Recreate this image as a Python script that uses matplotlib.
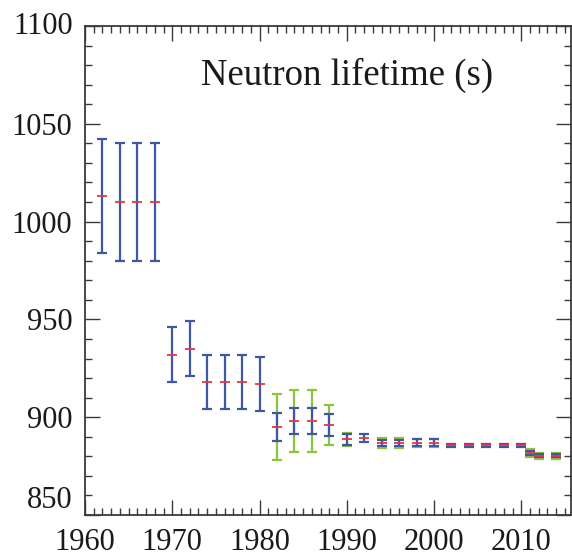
import matplotlib
matplotlib.use("Agg")
import matplotlib.pyplot as plt
import numpy as np
from matplotlib.ticker import MultipleLocator

# ---- data ----
years = [1962, 1964, 1966, 1968, 1970, 1972, 1974, 1976, 1978, 1980,
         1982, 1984, 1986, 1988, 1990, 1992, 1994, 1996, 1998, 2000,
         2002, 2004, 2006, 2008, 2010, 2011, 2012, 2014]
values = [1013, 1010, 1010, 1010, 932, 935, 918, 918, 918, 917,
          895, 898, 898, 896, 888.6, 889.5, 887.0, 887.0, 887.0, 887.0,
          885.7, 885.7, 885.7, 885.7, 885.7, 881.6, 880.3, 880.3]
err_blue = [29, 30, 30, 30, 14, 14, 14, 14, 14, 14,
            7, 6.5, 6.5, 5.5, 2.6, 2.0, 1.5, 1.5, 1.6, 1.6,
            0.8, 0.8, 0.8, 0.8, 0.8, 1.0, 0.8, 0.8]
# scaled (larger) uncertainties drawn in green; None = not shown
err_green = [None, None, None, None, None, None, None, None, None, None,
             17, 16, 16, 10, 3.5, None, 2.6, 2.6, 2.0, 2.0,
             None, None, None, None, None, 1.9, 1.5, 1.5]

y_ticks = [850, 900, 950, 1000, 1050, 1100]
x_ticks = [1960, 1970, 1980, 1990, 2000, 2010]
title_text = "Neutron lifetime (s)"

BLUE = "#3e58a6"
GREEN = "#8cc43c"
RED = "#e8343c"
FRAME = "#3a3a3a"

plt.rcParams['font.family'] = ['Liberation Serif', 'DejaVu Serif']

fig = plt.figure(figsize=(5.72, 5.55), dpi=100)
ax = fig.add_axes([85/572, 1 - 515/555, (571 - 85)/572, (515 - 26)/555])

# green (scaled) error bars
gx = [x for x, g in zip(years, err_green) if g is not None]
gy = [v for v, g in zip(values, err_green) if g is not None]
ge = [g for g in err_green if g is not None]
ax.errorbar(gx, gy, yerr=ge, fmt='none', ecolor=GREEN, elinewidth=1.6,
            capsize=3.5, capthick=1.6, zorder=2)

# blue error bars
ax.errorbar(years, values, yerr=err_blue, fmt='none', ecolor=BLUE,
            elinewidth=1.6, capsize=3.5, capthick=1.6, zorder=3)

# red central values
ax.plot(years, values, linestyle='none', marker='_', markersize=7,
        markeredgewidth=1.3, color=RED, zorder=4)

ax.set_xlim(1960, 2015.7)
ax.set_ylim(850, 1100)
ax.set_xticks(x_ticks)
ax.set_yticks(y_ticks)
ax.xaxis.set_minor_locator(MultipleLocator(1))
ax.yaxis.set_minor_locator(MultipleLocator(10))

ax.tick_params(which='both', direction='in', top=True, right=True,
               color=FRAME, width=1.0, labelsize=22, labelcolor='#1a1a1a')
ax.tick_params(which='major', length=11)
ax.tick_params(which='minor', length=5)
ax.tick_params(axis='y', which='major', pad=9)
ax.tick_params(axis='x', which='major', pad=9)

# lowest y label sits just above the corner, as in the reference
ax.yaxis.get_major_ticks()[0].label1.set_verticalalignment('bottom')
ax.yaxis.get_major_ticks()[-1].label1.set_verticalalignment('center')

for s in ax.spines.values():
    s.set_color(FRAME)
    s.set_linewidth(1.3)

ax.text(0.539, 0.879, title_text, transform=ax.transAxes, ha='center',
        va='baseline', fontsize=26.5, color='#1a1a1a')

fig.savefig("out.png", dpi=100)
